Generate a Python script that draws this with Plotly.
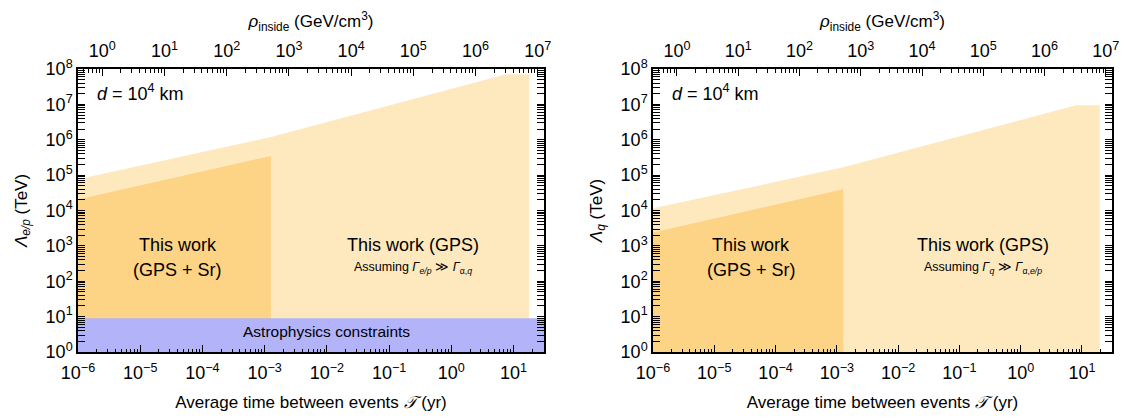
import numpy as np
import plotly.graph_objects as go

# ---------------- data ----------------
# Left panel: Lambda_{e/p}
T_light_left = [1e-6, 1e-6, 1.26e-3, 7.6, 17.8, 17.8]
L_light_left = [1, 7.6e4, 1.2e6, 7.1e7, 7.1e7, 1]
T_dark_left = [1e-6, 1e-6, 1.26e-3, 1.26e-3]
L_dark_left = [1, 2.05e4, 3.5e5, 1]
T_astro = [1e-6, 1e-6, 31, 31]
L_astro = [1, 9, 9, 1]

# Right panel: Lambda_q
T_light_right = [1e-6, 1e-6, 1.27e-3, 8.0, 19.5, 19.5]
L_light_right = [1, 1.15e4, 1.66e5, 9.5e6, 9.5e6, 1]
T_dark_right = [1e-6, 1e-6, 1.27e-3, 1.27e-3]
L_dark_right = [1, 2.4e3, 4.0e4, 1]

# Axis ticks
x_exps = [-6, -5, -4, -3, -2, -1, 0, 1]
y_exps = [0, 1, 2, 3, 4, 5, 6, 7, 8]
rho_exps = [0, 1, 2, 3, 4, 5, 6, 7]
X_RANGE = [-6, 1.49]
RHO_OFFSET = 5.61  # log10(rho) = log10(T) + offset
Y_RANGE = [0, 8]

LIGHT = "#FEE9BF"
DARK = "#FDD385"
BLUE = "#B3B3FA"
FONT = "Liberation Sans, Arial, sans-serif"

# page body has an 8px margin, so the figure is drawn 8px smaller
W, H = 1121, 410
OFF = 8


def sup_text(exps):
    return ["10<sup>%s</sup>" % (str(e).replace("-", "−")) for e in exps]


def minor_vals(exps_lo, exps_hi):
    vals = []
    for e in range(exps_lo, exps_hi + 1):
        for m in range(2, 10):
            vals.append(m * 10.0 ** e)
    return vals


fig = go.Figure()

# Left panel
fig.add_trace(go.Scatter(x=T_light_left, y=L_light_left, fill="toself", fillcolor=LIGHT,
                         mode="none", xaxis="x", yaxis="y", hoverinfo="skip"))
fig.add_trace(go.Scatter(x=T_dark_left, y=L_dark_left, fill="toself", fillcolor=DARK,
                         mode="none", xaxis="x", yaxis="y", hoverinfo="skip"))
fig.add_trace(go.Scatter(x=T_astro, y=L_astro, fill="toself", fillcolor=BLUE,
                         mode="none", xaxis="x", yaxis="y", hoverinfo="skip"))
# Right panel
fig.add_trace(go.Scatter(x=T_light_right, y=L_light_right, fill="toself", fillcolor=LIGHT,
                         mode="none", xaxis="x2", yaxis="y2", hoverinfo="skip"))
fig.add_trace(go.Scatter(x=T_dark_right, y=L_dark_right, fill="toself", fillcolor=DARK,
                         mode="none", xaxis="x2", yaxis="y2", hoverinfo="skip"))

left_dom = [(78 - OFF) / W, (544 - OFF) / W]
right_dom = [(653 - OFF) / W, (1112 - OFF) / W]
y_dom = [1 - (352 - OFF) / H, 1 - (69 - OFF) / H]

tickfont = dict(family=FONT, size=18, color="black")
titlefont = dict(family=FONT, size=17, color="black")

common_x = dict(type="log", range=X_RANGE, tickvals=[10.0 ** e for e in x_exps],
                ticktext=sup_text(x_exps), ticks="inside", ticklen=7, tickwidth=1.2,
                tickcolor="black", showline=True, linecolor="black", linewidth=1.5,
                mirror=True, showgrid=False, zeroline=False, tickfont=tickfont,
                automargin=False, ticklabelstandoff=4,
                minor=dict(tickvals=minor_vals(-7, 1), ticks="inside", ticklen=3.5,
                           tickwidth=1, tickcolor="black", showgrid=False),
                title=dict(text="Average time between events <i>𝒯</i> (yr)",
                           font=titlefont, standoff=14))
common_y = dict(type="log", range=Y_RANGE, tickvals=[10.0 ** e for e in y_exps],
                ticktext=sup_text(y_exps), ticks="inside", ticklen=7, tickwidth=1.2,
                tickcolor="black", showline=True, linecolor="black", linewidth=1.5,
                mirror="allticks", showgrid=False, zeroline=False, tickfont=tickfont,
                automargin=False,
                minor=dict(tickvals=minor_vals(0, 7), ticks="inside", ticklen=3.5,
                           tickwidth=1, tickcolor="black", showgrid=False),
                domain=y_dom)
top_x = dict(type="log", range=[X_RANGE[0] + RHO_OFFSET, X_RANGE[1] + RHO_OFFSET],
             tickvals=[10.0 ** e for e in rho_exps], ticktext=sup_text(rho_exps),
             ticks="inside", ticklen=7, tickwidth=1.2, tickcolor="black", side="top",
             showgrid=False, zeroline=False, tickfont=tickfont, showline=False,
             automargin=False, ticklabelstandoff=7,
             minor=dict(tickvals=minor_vals(-1, 7), ticks="inside", ticklen=3.5,
                        tickwidth=1, tickcolor="black", showgrid=False),
             title=dict(text="<i>ρ</i><sub>inside</sub> (GeV/cm<sup>3</sup>)",
                        font=titlefont, standoff=6))

fig.update_layout(
    width=W, height=H,
    margin=dict(l=0, r=0, t=0, b=0),
    paper_bgcolor="white", plot_bgcolor="white",
    showlegend=False,
    font=dict(family=FONT, color="black"),
    xaxis=dict(common_x, domain=left_dom, anchor="y"),
    yaxis=dict(common_y, anchor="x",
               title=dict(text="<i>Λ</i><sub><i>e/p</i></sub> (TeV)", font=titlefont, standoff=14)),
    xaxis2=dict(common_x, domain=right_dom, anchor="y2"),
    yaxis2=dict(common_y, anchor="x2",
                title=dict(text="<i>Λ</i><sub><i>q</i></sub> (TeV)", font=titlefont, standoff=14)),
    xaxis3=dict(top_x, overlaying="x", anchor="y"),
    xaxis4=dict(top_x, overlaying="x2", anchor="y2"),
)

# invisible traces to activate the top axes
fig.add_trace(go.Scatter(x=[1e3], y=[1e9], xaxis="x3", yaxis="y", mode="markers",
                         marker=dict(opacity=0), hoverinfo="skip"))
fig.add_trace(go.Scatter(x=[1e3], y=[1e9], xaxis="x4", yaxis="y2", mode="markers",
                         marker=dict(opacity=0), hoverinfo="skip"))

big = dict(family=FONT, size=18, color="black")
small = dict(family=FONT, size=12.5, color="black")

for xr, yr, assume in [("x", "y", "Assuming <i>Γ</i><sub><i>e/p</i></sub> ≫ <i>Γ</i><sub>α,<i>q</i></sub>"),
                       ("x2", "y2", "Assuming <i>Γ</i><sub><i>q</i></sub> ≫ <i>Γ</i><sub>α,<i>e/p</i></sub>")]:
    fig.add_annotation(x=-5.72, y=7.34, xref=xr, yref=yr, text="<i>d</i> = 10<sup>4</sup> km",
                       showarrow=False, xanchor="left", yanchor="middle", font=big)
    fig.add_annotation(x=-4.40, y=3.02, xref=xr, yref=yr, text="This work",
                       showarrow=False, font=big)
    fig.add_annotation(x=-4.40, y=2.32, xref=xr, yref=yr, text="(GPS + Sr)",
                       showarrow=False, font=big)
    fig.add_annotation(x=-0.61, y=3.02, xref=xr, yref=yr, text="This work (GPS)",
                       showarrow=False, font=big)
    fig.add_annotation(x=-0.61, y=2.38, xref=xr, yref=yr, text=assume,
                       showarrow=False, font=small)

fig.add_annotation(x=-2.01, y=0.59, xref="x", yref="y", text="Astrophysics constraints",
                   showarrow=False, font=dict(family=FONT, size=15.5, color="black"))

fig.write_html("out.html")
